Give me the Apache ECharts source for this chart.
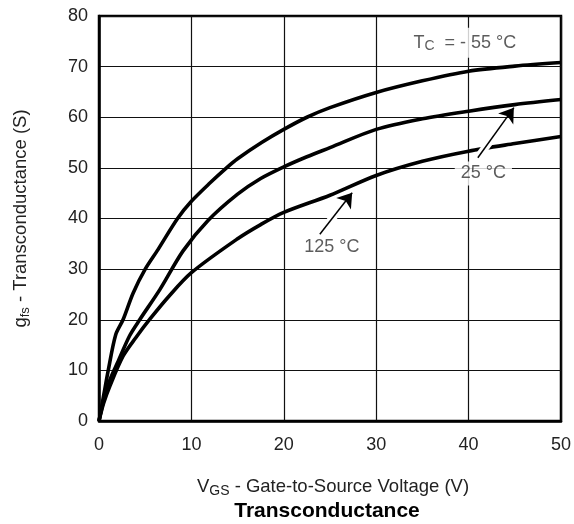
<!DOCTYPE html>
<html><head><meta charset="utf-8">
<script src="https://cdn.jsdelivr.net/npm/echarts@6/dist/echarts.min.js"></script>
<style>html,body{margin:0;padding:0;background:#fff}#c{width:574px;height:524px}</style>
</head><body><div id="c"></div>
<script>
// Axis ticks
const xTicks = [0, 10, 20, 30, 40, 50];
const yTicks = [0, 10, 20, 30, 40, 50, 60, 70, 80];

// T_C = -55 °C
const vgsM55 = [0, 0.5, 1, 1.8, 2.6, 3.7, 5, 6.4, 8.5, 10, 12, 13.8, 15, 17.6, 20, 22.5, 25, 30, 35, 40, 45, 50];
const gfsM55 = [0, 5, 10, 17, 20, 25.3, 30, 33.9, 40, 43.4, 47, 50, 51.8, 55, 57.6, 60, 61.9, 64.9, 67.2, 69.1, 70.1, 70.8];

// T_C = 25 °C
const vgs25 = [0, 0.5, 1.2, 2, 3.3, 4.4, 6.6, 9.1, 11.8, 15, 17.5, 20, 22.5, 25, 30, 35, 40, 45, 50];
const gfs25 = [0, 4, 8.2, 11.5, 16.8, 20, 26, 33.6, 39.6, 44.8, 47.9, 50.2, 52.2, 54, 57.6, 59.7, 61.2, 62.5, 63.5];

// T_C = 125 °C
const vgs125 = [0, 0.5, 1.2, 2.6, 4, 5.5, 7.5, 10, 15, 17.5, 20, 25, 30, 35, 40, 45, 50];
const gfs125 = [0, 3.5, 7, 12.8, 16.5, 20.1, 24.5, 29.3, 36, 38.8, 41.2, 44.6, 48.5, 51.3, 53.3, 54.8, 56.2];

const FONT = '"Liberation Sans", Arial, Helvetica, sans-serif';
const TXT = '#222';
const zip = (xs, ys) => xs.map((x, i) => [x, ys[i]]);
const curve = (name, xs, ys) => ({
  name, type: 'line', data: zip(xs, ys), symbol: 'none', smooth: 0.3,
  lineStyle: { color: '#000', width: 3.6 }, z: 3, silent: true
});

const chart = echarts.init(document.getElementById('c'), null, { renderer: 'canvas' });
chart.setOption({
  animation: false,
  grid: { left: 99, top: 16, width: 463, height: 405, show: true, borderColor: '#000', borderWidth: 2.5 },
  xAxis: {
    type: 'value', min: xTicks[0], max: xTicks[xTicks.length - 1], interval: xTicks[1] - xTicks[0],
    axisLine: { show: true, lineStyle: { color: '#000', width: 2.5 } },
    axisTick: { show: false },
    axisLabel: { fontSize: 18, color: TXT, fontFamily: FONT, margin: 15 },
    splitLine: { show: true, lineStyle: { color: '#111', width: 1.2 } },
    name: '{a|V}{b|GS}{a| - Gate-to-Source Voltage (V)}',
    nameLocation: 'middle', nameGap: 55,
    nameTextStyle: {
      padding: [0, 0, 0, 6],
      rich: {
        a: { fontSize: 18.5, color: TXT, fontFamily: FONT, lineHeight: 22 },
        b: { fontSize: 14, color: TXT, fontFamily: FONT, lineHeight: 14, verticalAlign: 'bottom' }
      }
    }
  },
  yAxis: {
    type: 'value', min: yTicks[0], max: yTicks[yTicks.length - 1], interval: yTicks[1] - yTicks[0],
    axisLine: { show: true, lineStyle: { color: '#000', width: 2.5 } },
    axisTick: { show: false },
    axisLabel: { fontSize: 18, color: TXT, fontFamily: FONT, margin: 11 },
    splitLine: { show: true, lineStyle: { color: '#111', width: 1.2 } },
    name: '{a|g}{b|fs}{a| - Transconductance (S)}',
    nameLocation: 'middle', nameGap: 67,
    nameTextStyle: {
      rich: {
        a: { fontSize: 18.5, color: TXT, fontFamily: FONT, lineHeight: 22 },
        b: { fontSize: 13, color: TXT, fontFamily: FONT, lineHeight: 16, verticalAlign: 'bottom' }
      }
    }
  },
  graphic: [{
    type: 'text', x: 327, y: 511,
    style: { text: 'Transconductance', font: 'bold 21px ' + FONT, fill: '#000', align: 'center', verticalAlign: 'middle' }
  }],
  series: [
    curve('-55 °C', vgsM55, gfsM55),
    curve('25 °C', vgs25, gfs25),
    curve('125 °C', vgs125, gfs125),
    {
      type: 'line', data: [], silent: true,
      markLine: {
        z: 5, silent: true, symbol: ['none', 'none'], label: { show: false },
        lineStyle: { color: '#fff', width: 8, type: 'solid' },
        data: [
          [{ coord: [23.9, 36.9] }, { coord: [26.0, 41.8] }],
          [{ coord: [41.0, 52.0] }, { coord: [43.2, 57.5] }]
        ]
      }
    },
    {
      type: 'line', data: [], silent: true,
      markLine: {
        z: 6, silent: true, symbol: ['none', 'arrow'], symbolSize: 14, label: { show: false },
        itemStyle: { color: '#000' },
        lineStyle: { color: '#000', width: 1.5, type: 'solid' },
        data: [
          [{ coord: [23.9, 36.9] }, { coord: [27.4, 45.1] }],
          [{ coord: [41.0, 52.0] }, { coord: [44.9, 61.9] }]
        ]
      }
    },
    {
      type: 'scatter', symbolSize: 0, silent: true, z: 7,
      label: {
        show: true, position: 'inside', color: '#333', fontFamily: FONT, fontSize: 18,
        backgroundColor: '#fff', padding: [3, 6]
      },
      data: [
        { value: [25.2, 34.3], label: { formatter: '125 °C' } },
        { value: [41.6, 48.9], label: { formatter: '25 °C' } },
        {
          value: [39.6, 74.7],
          label: {
            padding: [5, 4],
            formatter: '{a|T}{b|C}{a|  = - 55 °C}',
            rich: {
              a: { fontSize: 18, color: '#333', fontFamily: FONT, lineHeight: 20 },
              b: { fontSize: 14, color: '#333', fontFamily: FONT, lineHeight: 14, verticalAlign: 'bottom' }
            }
          }
        }
      ]
    }
  ]
});
</script>
</body></html>
